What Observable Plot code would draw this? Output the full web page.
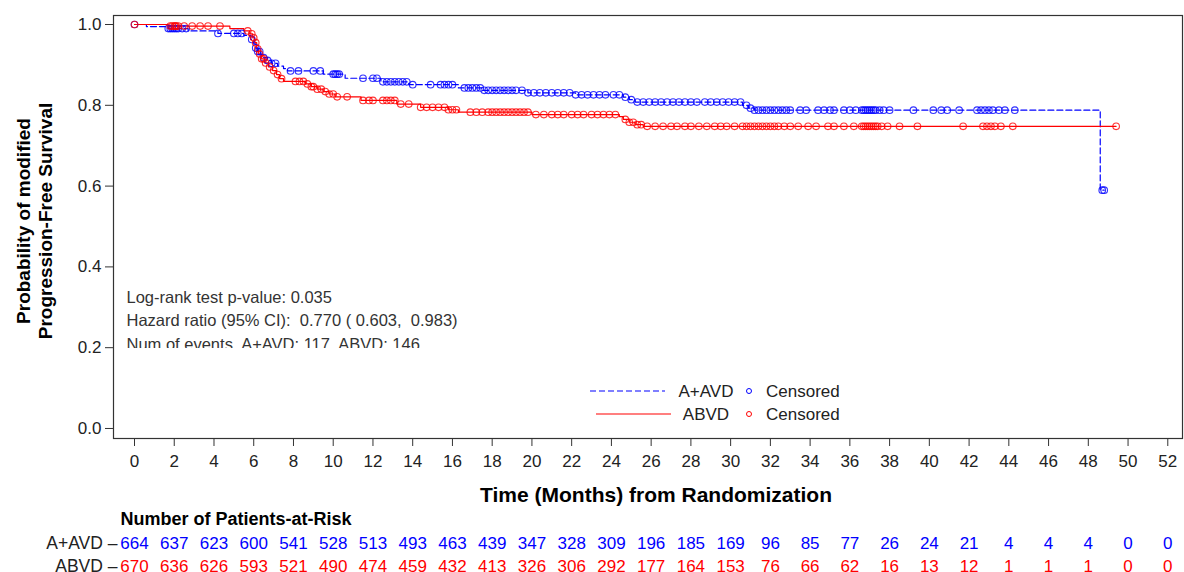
<!DOCTYPE html>
<html><head><meta charset="utf-8">
<script src="https://cdn.jsdelivr.net/npm/d3@7"></script>
<script src="https://cdn.jsdelivr.net/npm/@observablehq/plot@0.6"></script>
<style>body{margin:0;background:#fff} #chart svg{display:block}</style>
</head><body><div id="chart"></div>
<script>
// Kaplan-Meier steps [time (months), survival probability]
const stepsAAVD = [[0,1.0],[0.6,0.995],[1.7,0.99],[2.7,0.984],[4.2,0.978],[5.5,0.973],[5.85,0.963],[6.0,0.952],[6.1,0.942],[6.2,0.933],[6.35,0.925],[6.5,0.918],[6.7,0.911],[6.9,0.904],[7.2,0.897],[7.5,0.891],[7.7,0.885],[9.5,0.877],[10.6,0.867],[12.4,0.858],[13.8,0.851],[16.3,0.843],[17.5,0.837],[19.8,0.831],[22.2,0.826],[24.6,0.82],[24.9,0.814],[25.2,0.808],[30.6,0.80],[30.9,0.793],[31.2,0.788],[48.6,0.59],[48.8,0.59]];
const stepsABVD = [[0,1.0],[1.7,0.996],[4.8,0.99],[5.5,0.984],[5.8,0.977],[5.95,0.967],[6.05,0.955],[6.15,0.94],[6.25,0.927],[6.4,0.915],[6.55,0.905],[6.75,0.895],[6.95,0.886],[7.15,0.876],[7.3,0.866],[7.5,0.859],[8.6,0.853],[8.9,0.846],[9.2,0.84],[9.5,0.834],[9.8,0.828],[10.1,0.821],[11.4,0.812],[13.2,0.803],[14.4,0.795],[15.8,0.789],[16.3,0.783],[20.0,0.777],[24.4,0.772],[24.6,0.765],[24.9,0.758],[25.2,0.752],[25.6,0.748],[49.4,0.748]];

// Censoring times (months)
const censorAAVD = [0,1.7,1.8,1.9,2.0,2.1,2.2,2.4,2.6,4.2,5.0,5.2,5.4,5.9,6.1,6.2,6.3,6.5,6.7,6.9,7.1,7.85,8.25,9.0,9.35,10.0,10.1,10.2,10.3,11.5,12.0,12.2,12.5,12.7,12.9,13.1,13.3,13.5,13.7,14.0,14.9,15.4,15.6,15.8,16.0,16.6,16.8,17.0,17.2,17.4,17.6,17.8,18.0,18.2,18.4,18.6,18.8,19.0,19.2,19.5,19.8,20.1,20.4,20.7,21.0,21.3,21.6,21.9,22.2,22.5,22.8,23.1,23.4,23.7,24.1,24.4,24.7,25.0,25.3,25.6,25.9,26.2,26.5,26.8,27.1,27.4,27.7,28.0,28.3,28.7,29.0,29.3,29.6,29.9,30.2,30.5,30.8,31.0,31.2,31.4,31.6,31.8,32.0,32.2,32.4,32.6,32.8,33.0,33.5,33.8,34.4,34.7,35.0,35.2,35.7,36.0,36.3,36.6,36.7,36.8,36.9,37.0,37.1,37.2,37.3,37.5,37.7,38.0,39.2,40.2,40.6,40.9,41.5,42.4,42.6,42.8,43.0,43.2,43.5,43.8,44.3,48.7,48.8];
const censorABVD = [0,1.8,1.9,2.0,2.05,2.1,2.2,2.5,2.9,3.3,3.7,4.3,5.7,5.9,6.0,6.1,6.2,6.3,6.4,6.5,6.6,6.8,7.0,7.2,7.4,8.1,8.3,8.5,8.7,8.9,9.0,9.2,9.4,9.6,9.8,10.0,10.2,10.7,11.5,11.8,12.0,12.5,12.7,12.9,13.1,13.4,13.8,14.4,14.7,15.0,15.3,15.6,15.8,16.0,16.2,16.9,17.2,17.5,17.8,18.0,18.2,18.4,18.6,18.8,19.0,19.2,19.4,19.6,19.8,20.2,20.6,21.0,21.3,21.6,22.0,22.3,22.6,23.0,23.3,23.6,23.9,24.2,24.7,24.9,25.1,25.3,25.5,25.8,26.2,26.6,27.0,27.3,27.7,28.0,28.4,28.8,29.2,29.5,29.8,30.2,30.6,30.8,31.0,31.2,31.4,31.6,31.8,32.0,32.2,32.4,32.7,33.0,33.4,33.9,34.3,34.9,35.2,35.7,36.2,36.6,36.7,36.8,36.9,37.0,37.1,37.2,37.3,37.4,37.6,37.9,38.5,39.4,41.7,42.7,42.9,43.1,43.3,43.6,44.2,49.4];

// Axis ticks
const xTicks = [0,2,4,6,8,10,12,14,16,18,20,22,24,26,28,30,32,34,36,38,40,42,44,46,48,50,52];
const yTicks = [0,0.2,0.4,0.6,0.8,1.0];

// Number at risk
const riskAAVD = [664,637,623,600,541,528,513,493,463,439,347,328,309,196,185,169,96,85,77,26,24,21,4,4,4,0,0];
const riskABVD = [670,636,626,593,521,490,474,459,432,413,326,306,292,177,164,153,76,66,62,16,13,12,1,1,1,0,0];

const annotations = ["Log-rank test p-value: 0.035", "Hazard ratio (95% CI):  0.770 ( 0.603,  0.983)", "Num of events  A+AVD: 117  ABVD: 146"];

const BLUE = "#0000ff", RED = "#ff0000", INK = "#222";
const fontFam = "'Liberation Sans', Arial, Helvetica, sans-serif";

const survAt = (steps, t) => { let v = steps[0][1]; for (const [s, p] of steps) { if (s <= t) v = p; else break; } return v; };
const censA = censorAAVD.map(t => ({t, s: survAt(stepsAAVD, t)}));
const censB = censorABVD.map(t => ({t, s: survAt(stepsABVD, t)}));

const plot = Plot.plot({
  width: 1184, height: 572,
  marginLeft: 113, marginRight: 2, marginTop: 15, marginBottom: 134,
  style: {fontFamily: fontFam, fontSize: "17px", color: INK, background: "#fff"},
  x: {domain: [-1.057, 52.74]},
  y: {domain: [-0.0248, 1.0223]},
  marks: [
    Plot.frame({stroke: "#333", strokeWidth: 1.2}),
    Plot.axisY({ticks: yTicks, tickFormat: d3.format(".1f"), tickSize: 8, tickPadding: 4, label: null, fontSize: 17, stroke: "#333"}),
    Plot.axisX({ticks: xTicks, tickFormat: d => String(d), tickSize: 8, tickPadding: 8, label: null, fontSize: 17, stroke: "#333"}),
    Plot.line(stepsAAVD, {x: d => d[0], y: d => d[1], curve: "step-after", stroke: BLUE, strokeWidth: 1.2, strokeDasharray: "6,3"}),
    Plot.line(stepsABVD, {x: d => d[0], y: d => d[1], curve: "step-after", stroke: RED, strokeWidth: 1.2}),
    Plot.dot(censA, {x: "t", y: "s", r: 3.3, stroke: BLUE, strokeWidth: 1.1, strokeOpacity: 0.8, fill: "none"}),
    Plot.dot(censB, {x: "t", y: "s", r: 3.3, stroke: RED, strokeWidth: 1.1, strokeOpacity: 0.8, fill: "none"}),
    Plot.text([annotations[0]], {frameAnchor: "top-left", dx: 13, dy: 276, textAnchor: "start", fill: "#333", fontSize: 16.5}),
    Plot.text([annotations[1]], {frameAnchor: "top-left", dx: 13, dy: 299, textAnchor: "start", fill: "#333", fontSize: 16.5}),
    Plot.text([annotations[2]], {frameAnchor: "top-left", dx: 13, dy: 323, textAnchor: "start", fill: "#333", fontSize: 16.5}),
    Plot.text(["Time (Months) from Randomization"], {frameAnchor: "bottom", dx: 8, dy: 63, fontWeight: "bold", fontSize: 21, fill: "#000"}),
    Plot.text(["Probability of modified\nProgression-Free Survival"], {frameAnchor: "left", textAnchor: "middle", dx: -80, dy: -6, rotate: -90, fontWeight: "bold", fontSize: 19, lineHeight: 1.16, fill: "#000"}),
    Plot.text(["Number of Patients-at-Risk"], {frameAnchor: "bottom-left", dx: 7, dy: 86, textAnchor: "start", fontWeight: "bold", fontSize: 18, fill: "#000"}),
    Plot.text(["A+AVD \u2013"], {frameAnchor: "bottom-left", dx: 4, dy: 110, textAnchor: "end", fill: INK, fontSize: 17.5}),
    Plot.text(["ABVD \u2013"], {frameAnchor: "bottom-left", dx: 4, dy: 133, textAnchor: "end", fill: INK, fontSize: 17.5}),
    Plot.text(xTicks, {x: d => d, text: (d, i) => String(riskAAVD[i]), frameAnchor: "bottom", dy: 110, fill: BLUE, fontSize: 17}),
    Plot.text(xTicks, {x: d => d, text: (d, i) => String(riskABVD[i]), frameAnchor: "bottom", dy: 133, fill: RED, fontSize: 17})
  ]
});
document.getElementById("chart").appendChild(plot);

// clip the bottom of the third annotation line like the reference
const svg = d3.select(plot);
svg.append("rect").attr("x", 118).attr("y", 348).attr("width", 360).attr("height", 10).attr("fill", "#fff");

// legend
const lg = svg.append("g").attr("font-family", fontFam).attr("font-size", 17).attr("fill", INK);
const rows = [{y: 391, color: BLUE, dash: "6,3", x1: 590, x2: 665, label: "A+AVD"}, {y: 414, color: RED, dash: null, x1: 596, x2: 671, label: "ABVD"}];
for (const r of rows) {
  const ln = lg.append("line").attr("x1", r.x1).attr("x2", r.x2).attr("y1", r.y).attr("y2", r.y).attr("stroke", r.color).attr("stroke-width", 1.2);
  if (r.dash) ln.attr("stroke-dasharray", r.dash);
  lg.append("text").attr("x", 706).attr("y", r.y).attr("dy", "0.35em").attr("text-anchor", "middle").text(r.label);
  lg.append("circle").attr("cx", 749).attr("cy", r.y).attr("r", 2.5).attr("fill", "none").attr("stroke", r.color).attr("stroke-width", 1);
  lg.append("text").attr("x", 766).attr("y", r.y).attr("dy", "0.35em").attr("text-anchor", "start").text("Censored");
}
</script>
</body></html>
